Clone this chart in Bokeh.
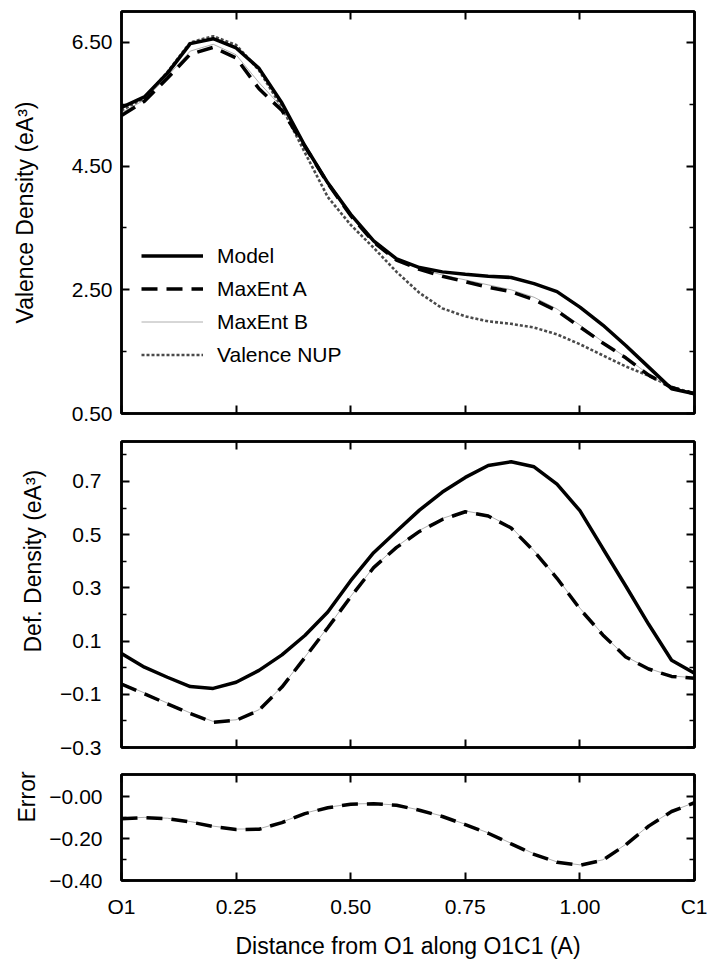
from bokeh.plotting import figure
from bokeh.models import Range1d, FixedTicker, LinearAxis, Legend, LegendItem, Title
from bokeh.layouts import column
from bokeh.embed import file_html
from bokeh.resources import INLINE

# ---------------- data ----------------
distance = [0.00, 0.05, 0.10, 0.15, 0.20, 0.25, 0.30, 0.35, 0.40, 0.45, 0.50, 0.55, 0.60,
            0.65, 0.70, 0.75, 0.80, 0.85, 0.90, 0.95, 1.00, 1.05, 1.10, 1.15, 1.20, 1.25]

valence_model = [5.45, 5.62, 6.00, 6.48, 6.56, 6.41, 6.08, 5.52, 4.83, 4.23, 3.72, 3.29, 3.00,
                 2.86, 2.79, 2.75, 2.72, 2.70, 2.60, 2.47, 2.22, 1.93, 1.60, 1.25, 0.90, 0.82]
valence_maxent_a = [5.32, 5.55, 5.92, 6.31, 6.42, 6.25, 5.75, 5.40, 4.82, 4.22, 3.70, 3.27, 2.98,
                    2.83, 2.72, 2.63, 2.54, 2.47, 2.34, 2.16, 1.90, 1.64, 1.40, 1.12, 0.92, 0.82]
valence_maxent_b = [5.36, 5.57, 5.95, 6.36, 6.47, 6.30, 5.85, 5.45, 4.80, 4.20, 3.69, 3.27, 2.99,
                    2.84, 2.74, 2.66, 2.58, 2.50, 2.38, 2.19, 1.93, 1.66, 1.41, 1.13, 0.92, 0.82]
valence_nup = [5.40, 5.60, 6.02, 6.50, 6.60, 6.46, 6.05, 5.45, 4.72, 4.00, 3.55, 3.18, 2.79,
               2.45, 2.20, 2.07, 1.99, 1.95, 1.89, 1.78, 1.62, 1.44, 1.26, 1.11, 0.93, 0.82]

def_model = [0.053, 0.002, -0.036, -0.071, -0.078, -0.055, -0.010, 0.048, 0.121, 0.209, 0.327, 0.432, 0.513,
             0.592, 0.660, 0.715, 0.760, 0.774, 0.755, 0.690, 0.590, 0.448, 0.307, 0.163, 0.028, -0.021]
def_maxent_a = [-0.062, -0.098, -0.136, -0.172, -0.205, -0.198, -0.160, -0.073, 0.038, 0.150, 0.266, 0.376, 0.452,
                0.512, 0.557, 0.586, 0.570, 0.525, 0.437, 0.336, 0.221, 0.123, 0.040, -0.005, -0.033, -0.040]
def_maxent_b = [-0.058, -0.095, -0.133, -0.170, -0.202, -0.196, -0.158, -0.071, 0.040, 0.152, 0.268, 0.378, 0.455,
                0.516, 0.561, 0.589, 0.573, 0.528, 0.440, 0.338, 0.224, 0.125, 0.042, -0.003, -0.031, -0.038]

error_maxent_a = [-0.105, -0.099, -0.104, -0.120, -0.142, -0.156, -0.155, -0.123, -0.080, -0.052, -0.035, -0.033, -0.040,
                  -0.064, -0.094, -0.133, -0.174, -0.225, -0.275, -0.313, -0.327, -0.303, -0.229, -0.140, -0.070, -0.028]
error_maxent_b = [-0.103, -0.098, -0.102, -0.118, -0.140, -0.154, -0.153, -0.121, -0.078, -0.050, -0.034, -0.032, -0.039,
                  -0.063, -0.092, -0.131, -0.172, -0.222, -0.272, -0.311, -0.325, -0.301, -0.227, -0.138, -0.069, -0.027]

x_tick_values = [0.0, 0.25, 0.50, 0.75, 1.00, 1.25]
x_tick_labels = ["O1", "0.25", "0.50", "0.75", "1.00", "C1"]

val_tick_values = [0.5, 2.5, 4.5, 6.5]
val_tick_labels = ["0.50", "2.50", "4.50", "6.50"]
val_minor_ticks = [1.5, 3.5, 5.5]

def_tick_values = [-0.3, -0.1, 0.1, 0.3, 0.5, 0.7]
def_tick_labels = ["\u22120.3", "\u22120.1", "0.1", "0.3", "0.5", "0.7"]
def_minor_ticks = [-0.2, 0.0, 0.2, 0.4, 0.6, 0.8]

err_tick_values = [-0.4, -0.2, 0.0]
err_tick_labels = ["\u22120.40", "\u22120.20", "\u22120.00"]
err_minor_ticks = [-0.3, -0.1]

legend_labels = ["Model", "MaxEnt A", "MaxEnt B", "Valence NUP"]

# ---------------- styling ----------------
FONT = "Liberation Sans"
TICK_FONT = "21px"
LABEL_FONT = "23px"

MODEL = dict(line_color="black", line_width=3.5)
MAXA = dict(line_color="black", line_width=3.5, line_dash="16 9")
MAXB = dict(line_color="#9a9a9a", line_width=0.8)
NUP = dict(line_color="#4a4a4a", line_width=2.6, line_dash="3 2")


def style_axis(ax, ticks, minor, labels, show, standoff=0):
    ax.ticker = FixedTicker(ticks=ticks, minor_ticks=minor)
    ax.major_label_overrides = {t: (l if show else "") for t, l in zip(ticks, labels)}
    ax.major_tick_in = 8
    ax.major_tick_out = 0
    ax.minor_tick_in = 5
    ax.minor_tick_out = 0
    ax.major_tick_line_width = 2
    ax.minor_tick_line_width = 1.5
    ax.axis_line_width = 2.5
    ax.major_label_text_font = FONT
    ax.major_label_text_color = "black"
    ax.major_label_text_font_size = TICK_FONT if show else "0px"
    ax.major_label_standoff = standoff if show else 0


def make_panel(height, top, bottom, y_range, yticks, ylabels, yminor, ytick_standoff, show_x):
    p = figure(width=707, height=height, x_range=Range1d(distance[0], distance[-1]),
               y_range=Range1d(*y_range), output_backend="svg", toolbar_location=None, title=None,
               min_border_left=121, min_border_right=13, min_border_top=top, min_border_bottom=bottom,
               background_fill_color="white", border_fill_color="white",
               outline_line_color="black", outline_line_width=2.5)
    p.xgrid.visible = False
    p.ygrid.visible = False
    style_axis(p.left[0], yticks, yminor, ylabels, True, ytick_standoff)
    style_axis(p.below[0], x_tick_values, [], x_tick_labels, show_x, 14)
    right = LinearAxis()
    style_axis(right, yticks, yminor, ylabels, False)
    p.add_layout(right, "right")
    above = LinearAxis()
    style_axis(above, x_tick_values, [], x_tick_labels, False)
    p.add_layout(above, "above")
    return p


def add_axis_title(p, text, standoff):
    # axis that only carries the y title, centred along the frame
    lab = LinearAxis(ticker=FixedTicker(ticks=[]), axis_label=text,
                     axis_line_color=None, major_tick_line_color=None, minor_tick_line_color=None,
                     major_tick_out=0, minor_tick_out=0, major_label_text_font_size="0px",
                     major_label_standoff=0, axis_label_standoff=standoff,
                     axis_label_text_font=FONT, axis_label_text_font_size=LABEL_FONT,
                     axis_label_text_font_style="normal", axis_label_text_color="black")
    p.add_layout(lab, "left")


def add_side_title(p, text, offset, standoff):
    # title on the left, shifted up from the frame bottom by `offset`
    p.add_layout(Title(text=text, align="left", offset=offset, standoff=standoff,
                       text_font=FONT, text_font_size=LABEL_FONT, text_font_style="normal",
                       text_color="black"), "left")


# ---------------- top: valence density ----------------
p1 = make_panel(427, 11, 14, (0.5, 7.0), val_tick_values, val_tick_labels, val_minor_ticks, 9, False)
add_axis_title(p1, "Valence Density (eA\u00b3)", 31)
r_nup = p1.line(distance, valence_nup, **NUP)
r_b = p1.line(distance, valence_maxent_b, **MAXB)
r_a = p1.line(distance, valence_maxent_a, **MAXA)
r_m = p1.line(distance, valence_model, **MODEL)
legend = Legend(items=[LegendItem(label=legend_labels[0], renderers=[r_m]),
                       LegendItem(label=legend_labels[1], renderers=[r_a]),
                       LegendItem(label=legend_labels[2], renderers=[r_b]),
                       LegendItem(label=legend_labels[3], renderers=[r_nup])],
                location=(20, 42), glyph_width=62, glyph_height=33, label_height=33,
                label_standoff=14, spacing=0, padding=0, margin=0,
                label_text_font=FONT, label_text_font_size="21px", label_text_color="black",
                border_line_alpha=0, background_fill_alpha=0)
p1.add_layout(legend)

# ---------------- middle: deformation density ----------------
p2 = make_panel(333, 14, 13, (-0.3, 0.85), def_tick_values, def_tick_labels, def_minor_ticks, 20, False)
add_side_title(p2, "Def. Density (eA\u00b3)", 95, 24)
p2.line(distance, def_maxent_b, **MAXB)
p2.line(distance, def_maxent_a, **MAXA)
p2.line(distance, def_model, **MODEL)

# ---------------- bottom: error ----------------
p3 = make_panel(201, 14, 78, (-0.40, 0.107), err_tick_values, err_tick_labels, err_minor_ticks, 19, True)
add_side_title(p3, "Error", 58, 14)
p3.line(distance, error_maxent_b, **MAXB)
p3.line(distance, error_maxent_a, **MAXA)
xax = p3.below[0]
xax.axis_label = "Distance from O1 along O1C1 (A)"
xax.axis_label_text_font = FONT
xax.axis_label_text_font_size = LABEL_FONT
xax.axis_label_text_font_style = "normal"
xax.axis_label_text_color = "black"
xax.axis_label_standoff = 12

layout = column(p1, p2, p3, spacing=0)
open("out.html", "w").write(file_html(layout, INLINE))
